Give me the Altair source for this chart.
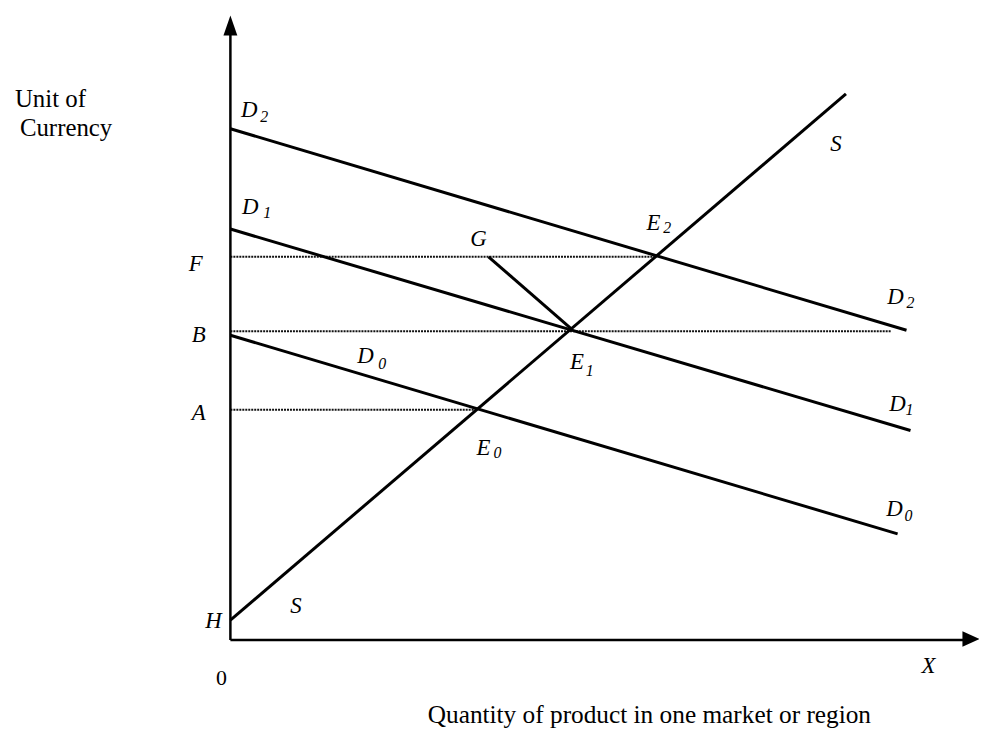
import altair as alt
import pandas as pd

# Chart units: q = quantity, p = price (unit of currency)
# ---- solid curves (start q, start p, end q, end p) ----
solid_names = ["D2", "D1", "D0", "S", "G-E1"]
solid_q0 = [0.0, 0.0, 0.0, 0.0, 26.0]
solid_p0 = [51.5, 41.4, 30.7, 2.0, 38.6]
solid_q1 = [68.1, 68.5, 67.2, 62.0, 34.4]
solid_p1 = [31.2, 21.1, 10.7, 55.0, 31.3]

# ---- axes ----
axis_names = ["y", "x"]
axis_q0 = [0.0, 0.0]
axis_p0 = [0.0, 0.0]
axis_q1 = [0.0, 74.0]
axis_p1 = [62.0, 0.0]

# ---- dotted price levels F, B, A ----
dotted_names = ["F", "B", "A"]
dotted_q0 = [0.0, 0.0, 0.0]
dotted_q1 = [42.8, 66.5, 24.8]
dotted_p = [38.6, 31.1, 23.2]

# ---- italic point / curve labels ----
main_text = ["D", "D", "F", "B", "A", "D", "G", "E", "E", "E", "S", "S",
             "D", "D", "D", "H", "X"]
main_q = [1.9, 2.0, -3.5, -3.2, -3.2, 13.6, 25.0, 42.6, 34.9, 25.5, 61.0, 6.6,
          67.0, 67.2, 66.9, -1.7, 70.3]
main_p = [53.4, 43.6, 37.9, 30.7, 22.9, 28.6, 40.4, 42.0, 28.0, 19.3, 50.0, 3.4,
          34.5, 23.8, 13.2, 1.9, -2.6]

sub_text = ["2", "1", "0", "2", "1", "0", "2", "1", "0"]
sub_q = [3.4, 3.7, 15.3, 44.0, 36.2, 26.9, 68.5, 68.4, 68.3]
sub_p = [52.7, 43.0, 27.8, 41.5, 27.1, 18.8, 33.9, 23.2, 12.5]

# ---- origin label ----
origin_text = ["0"]
origin_q = [-0.9]
origin_p = [-3.8]

# ---- axis titles ----
ytitle_text = ["Unit of", "Currency"]
ytitle_q = [-21.7, -21.2]
ytitle_p = [54.5, 51.6]
xtitle_text = ["Quantity of product in one market or region"]
xtitle_q = [42.2]
xtitle_p = [-7.6]

# ---- arrow heads ----
arrow_q = [0.0]
arrow_p = [61.9]
arrowx_q = [74.6]
arrowx_p = [0.1]

FONT = "Liberation Serif"
xs = alt.Scale(domain=[-22.4, 75.4], nice=False, zero=False)
ys = alt.Scale(domain=[-8.6, 63.4], nice=False, zero=False)

solid_df = pd.DataFrame({"name": solid_names, "q": solid_q0, "p": solid_p0,
                         "q2": solid_q1, "p2": solid_p1})
axis_df = pd.DataFrame({"name": axis_names, "q": axis_q0, "p": axis_p0,
                        "q2": axis_q1, "p2": axis_p1})
dot_df = pd.DataFrame({"name": dotted_names, "q": dotted_q0, "p": dotted_p,
                       "q2": dotted_q1, "p2": dotted_p})
main_df = pd.DataFrame({"t": main_text, "q": main_q, "p": main_p})
sub_df = pd.DataFrame({"t": sub_text, "q": sub_q, "p": sub_p})
origin_df = pd.DataFrame({"t": origin_text, "q": origin_q, "p": origin_p})
yt_df = pd.DataFrame({"t": ytitle_text, "q": ytitle_q, "p": ytitle_p})
xt_df = pd.DataFrame({"t": xtitle_text, "q": xtitle_q, "p": xtitle_p})
arr_df = pd.DataFrame({"q": arrow_q, "p": arrow_p})
arrx_df = pd.DataFrame({"q": arrowx_q, "p": arrowx_p})


def seg(df, **kw):
    return alt.Chart(df).mark_rule(**kw).encode(
        x=alt.X("q:Q", scale=xs, axis=None),
        y=alt.Y("p:Q", scale=ys, axis=None),
        x2="q2:Q", y2="p2:Q",
    )


def txt(df, **kw):
    return alt.Chart(df).mark_text(font=FONT, color="black", baseline="middle", **kw).encode(
        x=alt.X("q:Q", scale=xs, axis=None),
        y=alt.Y("p:Q", scale=ys, axis=None),
        text="t:N",
    )


solid = seg(solid_df, color="black", strokeWidth=3)
axes = seg(axis_df, color="black", strokeWidth=2.5)
dotted = seg(dot_df, color="#111111", strokeWidth=2, strokeDash=[2, 1])

main_lbl = txt(main_df, fontSize=23, fontStyle="italic", align="center")
sub_lbl = txt(sub_df, fontSize=16, fontStyle="italic", align="center")
origin_lbl = txt(origin_df, fontSize=22, align="center")
yt_lbl = txt(yt_df, fontSize=25, align="left")
xt_lbl = txt(xt_df, fontSize=25.5, align="center")

arrow_up = alt.Chart(arr_df).mark_point(
    shape="M0,-1L0.7,1L-0.7,1Z", size=400, filled=True, color="black", opacity=1
).encode(x=alt.X("q:Q", scale=xs, axis=None), y=alt.Y("p:Q", scale=ys, axis=None))
arrow_right = alt.Chart(arrx_df).mark_point(
    shape="M1,0L-1,-0.9L-1,0.9Z", size=300, filled=True, color="black", opacity=1
).encode(x=alt.X("q:Q", scale=xs, axis=None), y=alt.Y("p:Q", scale=ys, axis=None))

chart = alt.layer(
    dotted, solid, axes, arrow_up, arrow_right,
    main_lbl, sub_lbl, origin_lbl, yt_lbl, xt_lbl,
).properties(
    width=978, height=720,
    autosize=alt.AutoSizeParams(type="none"),
    padding=0,
    background="white",
).configure_view(stroke=None)

chart.save("out.html", embed_options={"renderer": "svg", "actions": False})
